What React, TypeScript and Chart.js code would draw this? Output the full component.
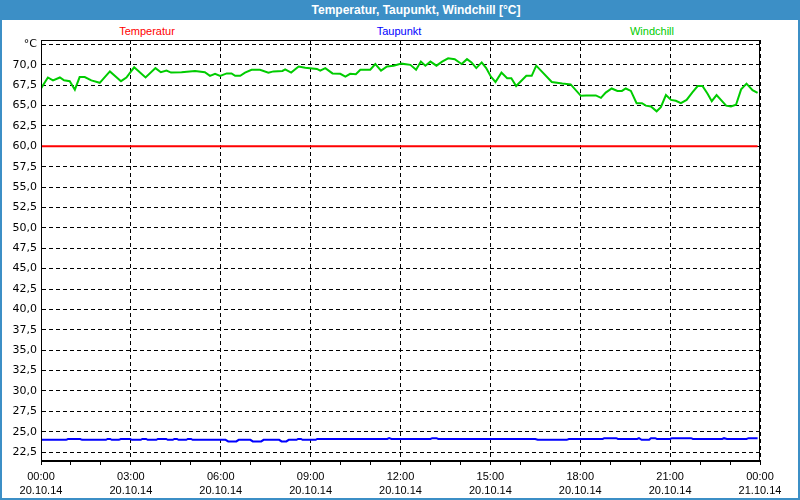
import React, { useEffect, useRef } from 'react';
import { Chart, registerables } from 'chart.js';

Chart.register(...registerables);

const TITLE = 'Temperatur, Taupunkt, Windchill [°C]';
const seriesNames = ['Temperatur', 'Taupunkt', 'Windchill'];
const seriesColors = ['#ff0000', '#0000ff', '#00cc00'];
const legendCenters = [147, 399, 652];

const tempHours = [0, 23.92];
const tempValues = [60.0, 60.0];

const dewHours = [0, 0.84, 0.9, 1.31, 1.37, 2.17, 2.22, 2.31, 2.36, 2.6, 2.66, 2.98, 3.03, 3.33, 3.38, 3.51, 3.56, 3.85, 3.9, 4.18, 4.23, 4.4, 4.45, 4.54, 4.59, 4.85, 4.9, 5.01, 5.06, 6.16, 6.25, 6.52, 6.6, 6.99, 7.07, 7.35, 7.43, 7.95, 8.03, 8.19, 8.27, 8.53, 8.58, 8.68, 8.73, 9.17, 9.22, 11.56, 11.62, 11.7, 13.0, 13.06, 13.2, 13.26, 16.5, 16.58, 17.55, 17.62, 18.75, 18.8, 19.2, 19.26, 19.9, 19.96, 20.05, 20.3, 20.36, 20.5, 20.56, 21.0, 21.06, 21.7, 21.76, 22.74, 22.8, 22.9, 23.55, 23.62, 23.92];
const dewValues = [24.0, 24.0, 24.1, 24.1, 24.0, 24.0, 24.1, 24.1, 24.0, 24.0, 24.1, 24.1, 24.0, 24.0, 24.1, 24.1, 24.0, 24.0, 24.1, 24.1, 24.0, 24.0, 24.1, 24.1, 24.0, 24.0, 24.1, 24.1, 24.0, 24.0, 23.8, 23.8, 24.0, 24.0, 23.8, 23.8, 24.0, 24.0, 23.8, 23.8, 24.0, 24.0, 24.1, 24.1, 24.0, 24.0, 24.1, 24.1, 24.2, 24.1, 24.1, 24.2, 24.2, 24.1, 24.1, 24.0, 24.0, 24.1, 24.1, 24.2, 24.2, 24.1, 24.1, 24.2, 24.0, 24.0, 24.2, 24.2, 24.1, 24.1, 24.2, 24.2, 24.1, 24.1, 24.2, 24.1, 24.1, 24.2, 24.2];

const windHours = [0.0, 0.23, 0.4, 0.63, 0.77, 0.96, 1.13, 1.29, 1.46, 1.68, 1.96, 2.3, 2.67, 2.85, 3.11, 3.49, 3.82, 4.0, 4.19, 4.34, 4.69, 5.14, 5.47, 5.64, 5.81, 5.98, 6.2, 6.36, 6.48, 6.65, 6.81, 7.03, 7.31, 7.59, 7.76, 8.06, 8.15, 8.35, 8.6, 8.82, 9.21, 9.32, 9.49, 9.73, 9.99, 10.16, 10.32, 10.51, 10.66, 10.99, 11.16, 11.35, 11.55, 11.77, 12.03, 12.33, 12.52, 12.68, 12.83, 13.0, 13.2, 13.39, 13.59, 13.81, 14.04, 14.22, 14.37, 14.53, 14.71, 14.86, 15.01, 15.17, 15.37, 15.56, 15.7, 15.86, 16.2, 16.38, 16.53, 17.05, 17.4, 17.68, 18.02, 18.2, 18.52, 18.69, 18.85, 19.05, 19.24, 19.39, 19.52, 19.69, 19.88, 20.06, 20.19, 20.36, 20.55, 20.69, 20.86, 21.03, 21.19, 21.36, 21.55, 21.75, 21.92, 22.08, 22.25, 22.39, 22.55, 22.87, 23.03, 23.2, 23.37, 23.55, 23.75, 23.92];
const windValues = [67.1, 68.45, 68.1, 68.45, 68.1, 68.0, 66.95, 68.5, 68.5, 68.1, 67.8, 69.2, 68.0, 68.45, 69.7, 68.45, 69.6, 69.1, 69.3, 69.05, 69.1, 69.25, 69.1, 68.65, 68.9, 68.65, 68.95, 68.95, 68.65, 68.65, 69.05, 69.4, 69.4, 69.05, 69.2, 69.25, 69.45, 69.05, 69.8, 69.65, 69.5, 69.3, 69.6, 68.95, 68.9, 68.55, 68.9, 68.85, 69.4, 69.4, 70.1, 69.3, 69.8, 69.9, 70.15, 70.0, 69.4, 70.4, 69.9, 70.4, 69.9, 70.4, 70.8, 70.7, 70.1, 70.7, 70.3, 69.6, 70.3, 69.6, 68.6, 67.9, 69.05, 68.35, 68.35, 67.4, 68.65, 68.65, 69.9, 67.9, 67.7, 67.6, 66.2, 66.25, 66.25, 65.95, 66.6, 67.1, 66.8, 66.8, 67.1, 66.8, 65.3, 65.3, 65.0, 64.9, 64.3, 64.8, 66.3, 65.7, 65.6, 65.3, 65.7, 66.65, 67.4, 67.4, 66.45, 65.55, 66.3, 65.0, 64.9, 65.1, 67.0, 67.7, 66.9, 66.55];

const xTickHours = [0, 3, 6, 9, 12, 15, 18, 21, 24];
const xTickTimes = ['00:00', '03:00', '06:00', '09:00', '12:00', '15:00', '18:00', '21:00', '00:00'];
const xTickDates = ['20.10.14', '20.10.14', '20.10.14', '20.10.14', '20.10.14', '20.10.14', '20.10.14', '20.10.14', '21.10.14'];

const yTickValues = [22.5, 25, 27.5, 30, 32.5, 35, 37.5, 40, 42.5, 45, 47.5, 50, 52.5, 55, 57.5, 60, 62.5, 65, 67.5, 70, 72.5];
const yTickLabels = ['22,5', '25,0', '27,5', '30,0', '32,5', '35,0', '37,5', '40,0', '42,5', '45,0', '47,5', '50,0', '52,5', '55,0', '57,5', '60,0', '62,5', '65,0', '67,5', '70,0', '°C'];

const toPoints = (xs: number[], ys: number[]) => xs.map((x, i) => ({ x, y: ys[i] }));

const framePlugin = {
  id: 'frame',
  afterDraw(chart: any) {
    const { ctx, chartArea } = chart;
    ctx.save();
    ctx.strokeStyle = '#000';
    ctx.lineWidth = 1;
    ctx.setLineDash([]);
    const l = Math.round(chartArea.left) + 0.5;
    const t = Math.round(chartArea.top) + 0.5;
    const r = Math.round(chartArea.right) - 0.5;
    const b = Math.round(chartArea.bottom) - 0.5;
    ctx.strokeRect(l, t, r - l, b - t);
    ctx.restore();
  },
};

export default function App() {
  const ref = useRef<HTMLCanvasElement>(null);

  useEffect(() => {
    if (!ref.current) return;
    const series = [
      toPoints(tempHours, tempValues),
      toPoints(dewHours, dewValues),
      toPoints(windHours, windValues),
    ];
    const chart = new Chart(ref.current, {
      type: 'line',
      data: {
        datasets: series.map((data, i) => ({
          label: seriesNames[i],
          data,
          borderColor: seriesColors[i],
          backgroundColor: seriesColors[i],
          borderWidth: 2,
          pointRadius: 0,
          tension: 0,
          fill: false,
        })),
      },
      options: {
        animation: false,
        responsive: false,
        maintainAspectRatio: false,
        layout: { padding: { left: 0, right: 40, top: 40, bottom: 0 } },
        plugins: {
          legend: { display: false },
          title: { display: false },
          tooltip: { enabled: false },
        },
        scales: {
          x: {
            type: 'linear',
            min: 0,
            max: 24,
            ticks: {
              stepSize: 1,
              autoSkip: false,
              maxRotation: 0,
              minRotation: 0,
              padding: 5,
              color: '#000',
              font: { family: '"Liberation Sans", Arial, sans-serif', size: 11, lineHeight: 1.3 },
              callback: (v: any) => {
                const i = xTickHours.indexOf(Number(v));
                return i >= 0 ? [xTickTimes[i], xTickDates[i]] : '';
              },
            },
            grid: {
              color: (ctx: any) =>
                ctx.tick && xTickHours.includes(ctx.tick.value) ? '#000' : 'rgba(0,0,0,0)',
              tickColor: '#000',
              tickLength: 4,
              lineWidth: 1,
            },
            border: { color: '#000', dash: [4, 3] },
            afterFit: (s: any) => {
              s.height = 39;
            },
          },
          y: {
            type: 'linear',
            min: 21.4,
            max: 73.05,
            afterBuildTicks: (s: any) => {
              s.ticks = yTickValues.map((v) => ({ value: v }));
            },
            ticks: {
              padding: 4,
              color: '#000',
              font: { family: '"DejaVu Sans", Verdana, sans-serif', size: 11 },
              callback: (_v: any, i: number) => yTickLabels[i],
            },
            grid: { color: '#000', drawTicks: false, lineWidth: 1 },
            border: { color: '#000', dash: [4, 3] },
            afterFit: (s: any) => {
              s.width = 41;
            },
          },
        },
      },
      plugins: [framePlugin],
    });
    return () => chart.destroy();
  }, []);

  return (
    <div
      style={{
        position: 'absolute',
        left: 0,
        top: 0,
        width: 800,
        height: 500,
        background: '#3c8fc6',
        overflow: 'hidden',
        fontFamily: '"Liberation Sans", Arial, sans-serif',
      }}
    >
      <div
        style={{
          position: 'absolute',
          left: 0,
          top: 0,
          width: 832,
          height: 20,
          lineHeight: '20px',
          textAlign: 'center',
          color: '#fff',
          fontWeight: 'bold',
          fontSize: 12,
        }}
      >
        {TITLE}
      </div>
      <div
        style={{
          position: 'absolute',
          left: 2,
          top: 20,
          width: 796,
          height: 478,
          background: '#ffffff',
        }}
      />
      {seriesNames.map((name, i) => (
        <div
          key={name}
          style={{
            position: 'absolute',
            left: legendCenters[i],
            top: 24,
            transform: 'translateX(-50%)',
            color: seriesColors[i],
            fontSize: 11,
            lineHeight: '14px',
            whiteSpace: 'nowrap',
          }}
        >
          {name}
        </div>
      ))}
      <canvas
        ref={ref}
        width={800}
        height={500}
        style={{ position: 'absolute', left: 0, top: 0, width: 800, height: 500 }}
      />
    </div>
  );
}
